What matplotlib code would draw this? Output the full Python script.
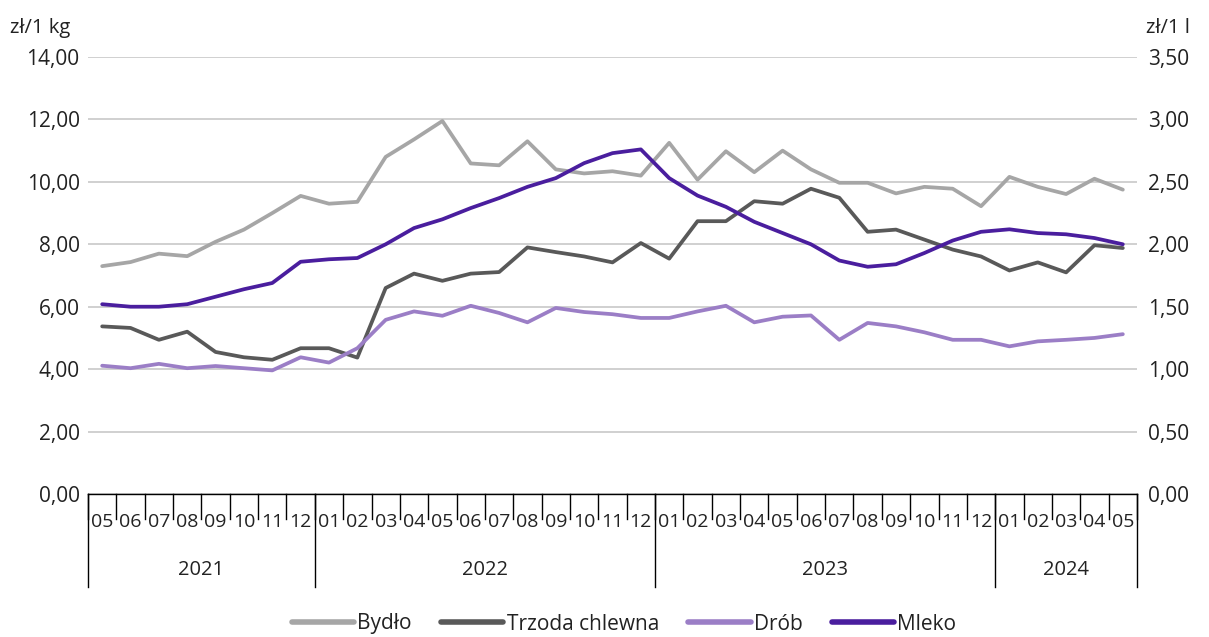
import matplotlib
matplotlib.use("Agg")
import matplotlib.pyplot as plt
import matplotlib.transforms as mtrans
from matplotlib.ticker import FuncFormatter, MultipleLocator

plt.rcParams['font.family'] = ['Open Sans', 'DejaVu Sans']

# monthly prices, 2021-05 .. 2024-05
months = ['05', '06', '07', '08', '09', '10', '11', '12',
          '01', '02', '03', '04', '05', '06', '07', '08', '09', '10', '11', '12',
          '01', '02', '03', '04', '05', '06', '07', '08', '09', '10', '11', '12',
          '01', '02', '03', '04', '05']
years = ['2021', '2022', '2023', '2024']
year_len = [8, 12, 12, 5]

bydlo = [7.30, 7.43, 7.70, 7.62, 8.08, 8.47, 9.00, 9.55, 9.30, 9.36, 10.80, 11.36, 11.95,
         10.59, 10.53, 11.30, 10.40, 10.27, 10.34, 10.20, 11.25, 10.07, 10.98, 10.31, 11.00,
         10.40, 9.97, 9.97, 9.63, 9.84, 9.78, 9.22, 10.16, 9.84, 9.61, 10.10, 9.75]
trzoda = [5.37, 5.32, 4.94, 5.20, 4.55, 4.38, 4.30, 4.67, 4.67, 4.37, 6.60, 7.06, 6.83,
          7.06, 7.11, 7.90, 7.75, 7.61, 7.42, 8.04, 7.54, 8.74, 8.74, 9.38, 9.30,
          9.78, 9.49, 8.40, 8.47, 8.15, 7.83, 7.61, 7.16, 7.42, 7.10, 7.97, 7.88]
drob = [4.11, 4.03, 4.17, 4.03, 4.10, 4.03, 3.96, 4.38, 4.21, 4.67, 5.58, 5.85, 5.71,
        6.03, 5.80, 5.50, 5.96, 5.83, 5.76, 5.64, 5.64, 5.85, 6.03, 5.50, 5.68,
        5.72, 4.94, 5.48, 5.37, 5.18, 4.94, 4.94, 4.73, 4.89, 4.94, 5.00, 5.12]
# milk, zł/1 l (right axis)
mleko = [1.52, 1.50, 1.50, 1.52, 1.58, 1.64, 1.69, 1.86, 1.88, 1.89, 2.00, 2.13, 2.20,
         2.29, 2.37, 2.46, 2.53, 2.65, 2.73, 2.76, 2.53, 2.39, 2.30, 2.18, 2.09,
         2.00, 1.87, 1.82, 1.84, 1.93, 2.03, 2.10, 2.12, 2.09, 2.08, 2.05, 2.00]

W, H = 1209, 637
txt = '#222222'
fig = plt.figure(figsize=(W / 100, H / 100), dpi=100)
ax = fig.add_axes([88 / W, 1 - 494 / H, (1137 - 88) / W, (494 - 57) / H])
ax2 = ax.twinx()

x = list(range(len(months)))
ax.plot(x, bydlo, color='#a6a6a6', lw=2.7, label='Bydło', solid_capstyle='round')
ax.plot(x, trzoda, color='#595959', lw=2.7, label='Trzoda chlewna', solid_capstyle='round')
ax.plot(x, drob, color='#9b7ec6', lw=2.7, label='Drób', solid_capstyle='round')
ax2.plot(x, mleko, color='#4a1e9e', lw=2.7, label='Mleko', solid_capstyle='round')

ax.set_xlim(-0.5, len(months) - 0.5)
ax.set_ylim(0, 14)
ax2.set_ylim(0, 3.5)
ax.yaxis.set_major_locator(MultipleLocator(2))
ax2.yaxis.set_major_locator(MultipleLocator(0.5))
fmt = FuncFormatter(lambda v, p: f'{v:.2f}'.replace('.', ','))
ax.yaxis.set_major_formatter(fmt)
ax2.yaxis.set_major_formatter(fmt)
ax.grid(axis='y', color='#c8c8c8', lw=1.2)
ax.set_axisbelow(True)

for a in (ax, ax2):
    for s in a.spines.values():
        s.set_visible(False)
    a.tick_params(axis='y', length=0, labelsize=15, colors=txt)
ax.tick_params(axis='y', pad=6)
ax2.tick_params(axis='y', pad=8)
ax.set_xticks([])

# category axis with months and years
tr = mtrans.blended_transform_factory(ax.transData, ax.transAxes)
axh = 494 - 57
ax.plot([-0.5, len(months) - 0.5], [0, 0], color='black', lw=1, transform=tr, clip_on=False)
for i in range(len(months) + 1):
    ax.plot([i - 0.5, i - 0.5], [0, -25 / axh], color='black', lw=1, transform=tr, clip_on=False)
    if i < len(months):
        ax.text(i, -28 / axh, months[i], transform=tr, ha='center', va='center',
                fontsize=14, color=txt)
start = 0
for yr, n in zip(years, year_len):
    ax.plot([start - 0.5, start - 0.5], [0, -93 / axh], color='black', lw=1,
            transform=tr, clip_on=False)
    ax.text(start + (n - 1) / 2, -76 / axh, yr, transform=tr, ha='center', va='center',
            fontsize=14.5, color=txt)
    start += n
ax.plot([start - 0.5, start - 0.5], [0, -93 / axh], color='black', lw=1, transform=tr, clip_on=False)

fig.text(10 / W, 1 - 28 / H, 'zł/1 kg', fontsize=14.5, color=txt, va='center')
fig.text(1146 / W, 1 - 28 / H, 'zł/1 l', fontsize=14.5, color=txt, va='center')

h1, l1 = ax.get_legend_handles_labels()
h2, l2 = ax2.get_legend_handles_labels()
leg = fig.legend(h1 + h2, l1 + l2, loc='center', bbox_to_anchor=(624 / W, 1 - 624 / H), ncol=4,
                 frameon=False, fontsize=15, handlelength=3.0, handletextpad=0.15,
                 columnspacing=1.4, labelcolor=txt)
for h in leg.legend_handles:
    h.set_linewidth(4)

fig.savefig('out.png', dpi=100)
